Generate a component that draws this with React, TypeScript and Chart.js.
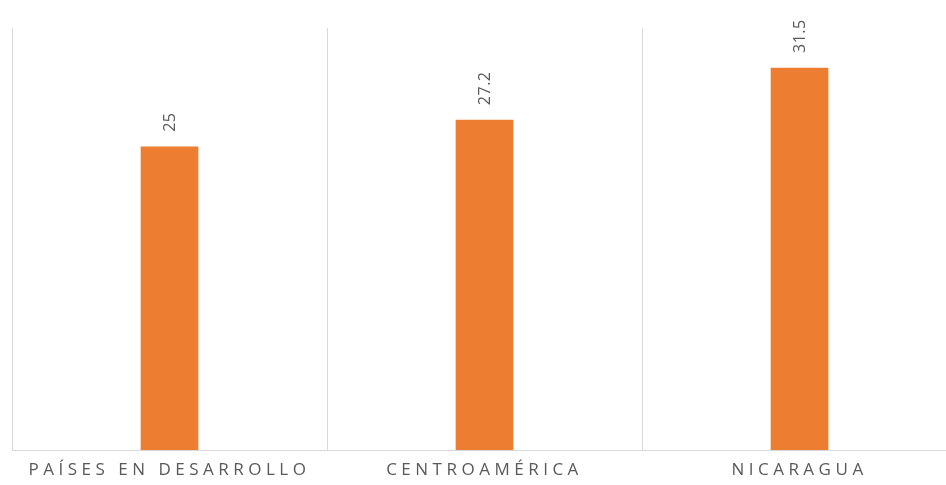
import React, { useEffect, useRef } from "react";
import { Chart, registerables } from "chart.js";

Chart.register(...registerables);

const categories = ["PAÍSES EN DESARROLLO", "CENTROAMÉRICA", "NICARAGUA"];
const values = [25, 27.2, 31.5];
const valueLabels = ["25", "27.2", "31.5"];

const BAR_COLOR = "#ED7D31";
const TEXT_COLOR = "#595959";
const GRID_COLOR = "#D9D9D9";

const spacingPlugin = {
  id: "spacing",
  beforeDraw(chart: any) {
    (chart.ctx as any).letterSpacing = "4.5px";
  },
  afterDatasetsDraw(chart: any) {
    const ctx = chart.ctx;
    const meta = chart.getDatasetMeta(0);
    ctx.save();
    (ctx as any).letterSpacing = "0.5px";
    ctx.font = "16px 'Open Sans'";
    ctx.fillStyle = TEXT_COLOR;
    ctx.textAlign = "left";
    ctx.textBaseline = "middle";
    meta.data.forEach((bar: any, i: number) => {
      ctx.save();
      ctx.translate(bar.x + 1, bar.y - 15);
      ctx.rotate(-Math.PI / 2);
      ctx.fillText(valueLabels[i], 0, 0);
      ctx.restore();
    });
    ctx.restore();
  },
  afterDraw(chart: any) {
    (chart.ctx as any).letterSpacing = "0px";
  },
};

export default function App() {
  const ref = useRef<HTMLCanvasElement>(null);
  useEffect(() => {
    if (!ref.current) return;
    const chart = new Chart(ref.current, {
      type: "bar",
      data: {
        labels: categories,
        datasets: [
          {
            data: values,
            backgroundColor: BAR_COLOR,
            borderWidth: 0,
            barThickness: 57,
          },
        ],
      },
      options: {
        animation: false,
        responsive: false,
        maintainAspectRatio: false,
        layout: { padding: { left: 12, right: 3, top: 28, bottom: 0 } },
        plugins: { legend: { display: false }, tooltip: { enabled: false } },
        scales: {
          x: {
            grid: {
              color: GRID_COLOR,
              offset: true,
              drawTicks: false,
              lineWidth: 1,
            },
            border: { color: GRID_COLOR, width: 1 },
            ticks: {
              color: TEXT_COLOR,
              font: { family: "'Open Sans'", size: 17 },
              padding: 10,
              autoSkip: false,
              maxRotation: 0,
              minRotation: 0,
            },
            afterFit(scale: any) {
              scale.height = 35;
            },
          },
          y: {
            display: false,
            min: 0,
            max: 34.8,
          },
        },
      },
      plugins: [spacingPlugin],
    });
    return () => chart.destroy();
  }, []);
  return (
    <div
      style={{
        position: "fixed",
        left: 0,
        top: 0,
        width: 946,
        height: 485,
        overflow: "hidden",
        background: "#ffffff",
      }}
    >
      <canvas ref={ref} width={960} height={485} style={{ display: "block" }} />
    </div>
  );
}
